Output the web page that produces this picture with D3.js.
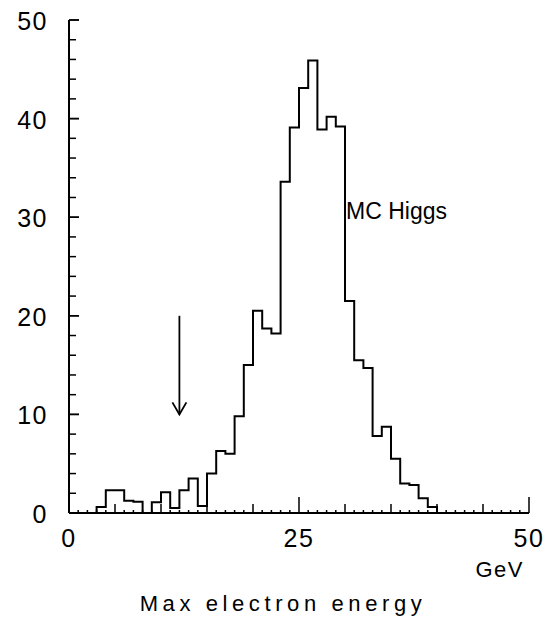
<!DOCTYPE html>
<html>
<head>
<meta charset="utf-8">
<script src="https://cdn.jsdelivr.net/npm/d3@7"></script>
<style>
  body { margin: 0; background: #ffffff; }
  svg text { font-family: "Liberation Sans", Arial, sans-serif; fill: #000; }
</style>
</head>
<body>
<svg id="chart" width="545" height="619"></svg>
<script>
// bin contents, 1 GeV bins from 0 to 50
const binEdges = d3.range(0, 50);
const counts = [0, 0, 0, 0.6, 2.3, 2.3, 1.25, 1.15, 0, 1.1,
                2.1, 0.5, 2.3, 3.5, 0.7, 4.0, 6.3, 6.0, 9.8, 15.0,
                20.5, 18.7, 18.2, 33.6, 39.1, 43.1, 45.9, 38.9, 40.2, 39.2,
                21.5, 15.5, 14.7, 7.8, 8.75, 5.5, 3.0, 2.85, 1.5, 0.6,
                0, 0, 0, 0, 0, 0, 0, 0, 0, 0];
const xTickLabels = [0, 25, 50];
const yTickLabels = [0, 10, 20, 30, 40, 50];
const arrowX = 12, arrowFrom = 20, arrowTo = 10;

const svg = d3.select("#chart");

const x = d3.scaleLinear().domain([0, 50]).range([69, 529]);
const y = d3.scaleLinear().domain([0, 50]).range([513, 20]);

// histogram
let pts = binEdges.map((e, i) => [e, counts[i]]);
pts.push([50, counts[49]]);
const stepLine = d3.line()
  .x(d => x(d[0]))
  .y(d => y(d[1]))
  .curve(d3.curveStepAfter);

svg.append("path")
  .attr("d", stepLine(pts))
  .attr("fill", "none")
  .attr("stroke", "#000")
  .attr("stroke-width", 2);

// axes lines
svg.append("line")
  .attr("x1", x(0)).attr("x2", x(0))
  .attr("y1", y(50)).attr("y2", y(0))
  .attr("stroke", "#000").attr("stroke-width", 2);
svg.append("line")
  .attr("x1", x(0)).attr("x2", x(50))
  .attr("y1", y(0)).attr("y2", y(0))
  .attr("stroke", "#000").attr("stroke-width", 2);

// y ticks (inside, pointing right)
svg.append("g").selectAll("line")
  .data(d3.range(0, 51, 2).concat(yTickLabels))
  .enter().append("line")
  .attr("x1", x(0))
  .attr("x2", d => x(0) + (d % 10 === 0 ? 10 : 7))
  .attr("y1", d => y(d)).attr("y2", d => y(d))
  .attr("stroke", "#000").attr("stroke-width", 1.5);

svg.append("g").selectAll("text")
  .data(yTickLabels)
  .enter().append("text")
  .attr("x", 48)
  .attr("y", d => y(d) + 10)
  .attr("text-anchor", "end")
  .style("font-size", "25px")
  .style("letter-spacing", "1.5px")
  .text(d => d);

// x ticks (inside, pointing up)
svg.append("g").selectAll("line")
  .data(d3.range(0, 51, 1))
  .enter().append("line")
  .attr("x1", d => x(d)).attr("x2", d => x(d))
  .attr("y1", y(0))
  .attr("y2", d => y(0) - (d % 25 === 0 ? 16 : d % 5 === 0 ? 9 : 3))
  .attr("stroke", "#000").attr("stroke-width", 1.5);

svg.append("g").selectAll("text")
  .data(xTickLabels)
  .enter().append("text")
  .attr("x", d => x(d))
  .attr("y", 547)
  .attr("text-anchor", "middle")
  .style("font-size", "25px")
  .style("letter-spacing", "1.5px")
  .text(d => d);

svg.append("text")
  .attr("x", 524).attr("y", 577)
  .attr("text-anchor", "end")
  .style("font-size", "22px")
  .style("letter-spacing", "1.5px")
  .text("GeV");

svg.append("text")
  .attr("x", 283).attr("y", 611)
  .attr("text-anchor", "middle")
  .style("font-size", "22px")
  .style("letter-spacing", "4.6px")
  .style("font-weight", "500")
  .text("Max electron energy");

// label
svg.append("text")
  .attr("x", x(30) + 1).attr("y", 219)
  .style("font-size", "23px")
  .text("MC Higgs");

// arrow
svg.append("line")
  .attr("x1", x(arrowX)).attr("x2", x(arrowX))
  .attr("y1", y(arrowFrom)).attr("y2", y(arrowTo))
  .attr("stroke", "#000").attr("stroke-width", 1.8);
svg.append("path")
  .attr("d", d3.line()([[x(arrowX) - 7, y(arrowTo) - 12], [x(arrowX), y(arrowTo)], [x(arrowX) + 7, y(arrowTo) - 12]]))
  .attr("fill", "none")
  .attr("stroke", "#000").attr("stroke-width", 1.8);
</script>
</body>
</html>
